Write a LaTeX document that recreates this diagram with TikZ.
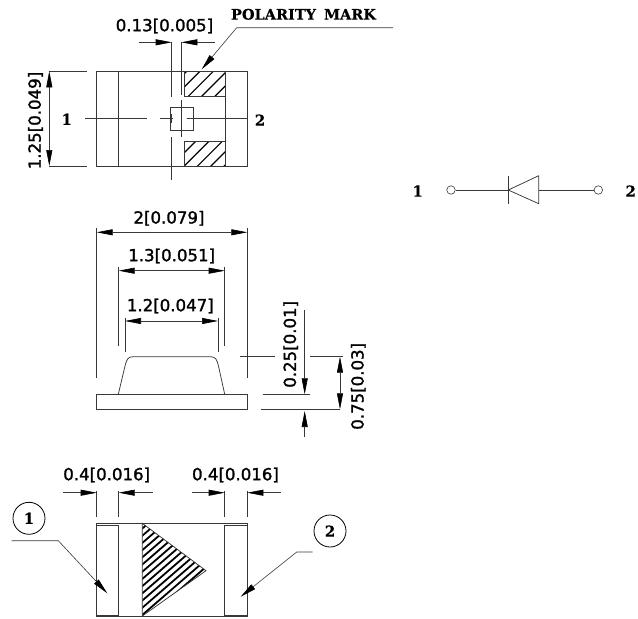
\documentclass[tikz,border=0pt]{standalone}
\usepackage{fontspec}
\usetikzlibrary{arrows.meta}
\newfontfamily\dimfont[FakeBold=1.6]{DejaVu Sans}
\newfontfamily\markfont[FakeBold=0.3]{DejaVu Serif Bold}
\definecolor{ln}{gray}{0.22}
\tikzset{
 part/.style={draw=ln,line width=0.75pt},
 thin line/.style={draw=ln,line width=0.6pt},
 hatchline/.style={draw=black,line width=1.2pt},
 dim/.style={draw=ln,line width=0.6pt,{Stealth[length=16pt,width=6pt,inset=0pt,black]}-{Stealth[length=16pt,width=6pt,inset=0pt,black]}},
 tipend/.style={draw=ln,line width=0.6pt,-{Stealth[length=16pt,width=6pt,inset=0pt,black]}},
 dimtext/.style={inner sep=0pt,font=\dimfont\fontsize{16.6pt}{18pt}\selectfont,text=black},
 marktext/.style={inner sep=0pt,font=\markfont\fontsize{15pt}{16pt}\selectfont,text=black},
 polartext/.style={inner sep=0pt,font=\markfont\fontsize{14.5pt}{16pt}\selectfont,text=black},
 pin/.style={circle,draw=ln,fill=white,line width=0.6pt,minimum size=8.5pt,inner sep=0pt},
 callout/.style={circle,draw=black,line width=0.8pt,minimum size=32pt,inner sep=0pt,font=\markfont\fontsize{15pt}{16pt}\selectfont},
}
\begin{document}
\begin{tikzpicture}[x=1pt,y=-1pt]
\useasboundingbox (0,0) rectangle (638,619);
% ---------- top view
\begin{scope}
\clip (184.3,71.3) rectangle (225,96.3);
\foreach \k in {-3,...,3} \draw[hatchline] ({284.6+13.3*\k-120},120) -- ({284.6+13.3*\k-40},40);
\end{scope}
\begin{scope}
\clip (184.3,141.3) rectangle (225,166);
\foreach \k in {-2,...,5} \draw[hatchline] ({350.3+13.3*\k-180},180) -- ({350.3+13.3*\k-130},130);
\end{scope}
\draw[part] (96.7,71.3) rectangle (247.7,166);
\draw[part] (118.7,71.3) -- (118.7,166);
\draw[part] (225,71.3) -- (225,166);
\draw[part] (184.3,71.3) rectangle (225,96.3);
\draw[part] (184.3,141.3) rectangle (225,166);
\draw[part] (170.3,107.3) rectangle (193,130.3);
\draw[thin line] (85,118.3) -- (146.7,118.3) (160,118.3) -- (172.7,118.3) (186.7,118.3) -- (247.7,118.3);
\draw[thin line] (171.7,41.7) -- (171.7,97) (171.7,114) -- (171.7,123) (171.7,137) -- (171.7,180);
\draw[thin line] (181.3,41.7) -- (181.3,95) (181.3,100) -- (181.3,136.7);
\draw[tipend] (139,42.3) -- (171.7,42.3);
\draw[tipend] (215,42.3) -- (181.3,42.3);
\draw[thin line] (48.5,71.3) -- (86.7,71.3) (48.5,166) -- (86.7,166);
\draw[dim] (49.3,71.3) -- (49.3,166);
\node[dimtext] (t125) at (164.5,26) {0.13[0.005]};
\node[dimtext,rotate=90] (t125b) at (35.5,120.5) {1.25[0.049]};
\node[marktext] (lbl1) at (66.7,119.3) {1};
\node[marktext] (lbl2) at (260,120) {2};
\node[polartext] (polmark) at (303.5,14.3) {POLARITY\hspace{8pt}MARK};
\coordinate (pa) at (393,27.7);
\coordinate (pb) at (236.7,27.7);
\coordinate (pc) at (201.7,69.3);
\draw[tipend] (pa) -- (pb) -- (pc);
% ---------- diode symbol
\node[marktext] (d1) at (417.7,191) {1};
\node[marktext] (d2) at (630.7,191) {2};
\node[pin] (pinl) at (451,190) {};
\node[pin] (pinr) at (598.3,190) {};
\coordinate (cath) at (508.3,190);
\coordinate (anode) at (538.7,190);
\draw[thin line] (pinl) -- (cath) (anode) -- (pinr);
\draw[thin line] (508.3,175.7) -- (508.3,203.7);
\draw[part,line join=round] (cath) -- (538.7,175.7) -- (538.7,203.7) -- cycle;
% ---------- side view
\draw[part] (96.7,394.3) rectangle (247.3,409.3);
\draw[part] (118.3,394.3) -- (125,366) .. controls (126.5,359.5) and (128,356.7) .. (133,356.7) -- (210.5,356.7) .. controls (215.5,356.7) and (217,359.5) .. (218.5,366) -- (224.7,394.3);
\draw[thin line] (96.7,228) -- (96.7,378.3) (247.3,228) -- (247.3,378.3);
\draw[thin line] (118.7,266.7) -- (118.7,345.7) (224.7,266.7) -- (224.7,345.7);
\draw[thin line] (125,318.3) -- (125,351.7) (218,318.3) -- (218,351.7);
\draw[dim] (96.7,232.3) -- (247.3,232.3);
\draw[dim] (118.7,270.7) -- (224.7,270.7);
\draw[dim] (125,321) -- (218,321);
\node[dimtext] (t2) at (169,218.3) {2[0.079]};
\node[dimtext] (t13) at (171.7,256) {1.3[0.051]};
\node[dimtext] (t12) at (170.3,306) {1.2[0.047]};
\draw[thin line] (240,356.7) -- (275,356.7) (310,356.7) -- (343.3,356.7);
\draw[thin line] (262.7,394.3) -- (310,394.3);
\draw[thin line] (260.7,409.3) -- (340,409.3);
\draw[tipend] (304.7,310) -- (304.7,394.3);
\draw[tipend] (304.7,436.7) -- (304.7,411);
\draw[dim] (340,356.7) -- (340,409.3);
\node[dimtext,rotate=90] (t025) at (290.7,344.3) {0.25[0.01]};
\node[dimtext,rotate=90] (t075) at (358.3,386.3) {0.75[0.03]};
% ---------- bottom view
\begin{scope}
\clip (142.3,523.3) -- (206,570.7) -- (142.3,616) -- cycle;
\foreach \k in {0,...,22} \draw[draw=black,line width=1.8pt] (130,{532+7.2*\k}) -- (220,{532+7.2*\k-78});
\end{scope}
\draw[part] (96.7,523.3) rectangle (247.3,616);
\draw[part] (96.7,525.3) rectangle (118.7,615);
\draw[part] (224.7,525.3) rectangle (247.3,615);
\draw[part] (142.3,523.3) -- (206,570.7) -- (142.3,616) -- cycle;
\draw[thin line] (96.7,491) -- (96.7,517.3) (118.7,491) -- (118.7,517.3);
\draw[thin line] (224.7,491) -- (224.7,517.3) (247.3,491) -- (247.3,517.3);
\draw[tipend] (62.7,492.7) -- (96.7,492.7);
\draw[tipend] (152.7,492.7) -- (118.7,492.7);
\draw[tipend] (191.7,492.7) -- (224.7,492.7);
\draw[tipend] (281,492.7) -- (247.3,492.7);
\node[dimtext] (t04a) at (106.7,475) {0.4[0.016]};
\node[dimtext] (t04b) at (235.5,475) {0.4[0.016]};
\node[callout] (c1) at (29,518.3) {1};
\node[callout] (c2) at (330,531) {2};
\coordinate (la) at (11.7,540.7);
\coordinate (lb) at (58.3,540.7);
\coordinate (lc) at (107.3,593.3);
\draw[tipend] (la) -- (lb) -- (lc);
\coordinate (ra) at (312.7,552);
\coordinate (rb) at (296.7,552);
\coordinate (rc) at (240.7,596.7);
\draw[tipend] (ra) -- (rb) -- (rc);
\end{tikzpicture}
\end{document}
